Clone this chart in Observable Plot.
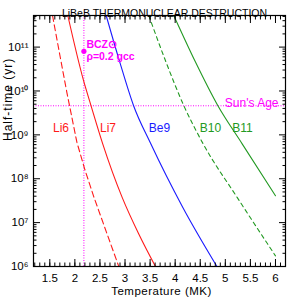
<!DOCTYPE html>
<html><head><meta charset="utf-8">
<script src="https://cdn.jsdelivr.net/npm/d3@7"></script>
<script src="https://cdn.jsdelivr.net/npm/@observablehq/plot@0.6"></script>
<style>
body{margin:0;background:#fff}
</style>
</head><body><div id="chart"></div>
<script>
// Temperature (MK) and half-time (yr)
const li6T = [1.554, 1.70, 1.84, 2.04, 2.20, 2.38, 2.64, 2.876];
const li6Y = [5.25e11, 6.6e10, 9.3e9, 6.8e8, 1.6e8, 3.8e7, 5.6e6, 1.0e6];
const li7T = [1.859, 2.172, 2.317, 2.557, 2.943, 3.274, 3.607];
const li7Y = [5.25e11, 1.74e10, 4.84e9, 6.17e8, 3.76e7, 5.5e6, 1.0e6];
const be9T = [2.624, 2.90, 3.169, 3.514, 4.15, 4.837];
const be9Y = [5.25e11, 4.37e10, 4.68e9, 6.24e8, 2.24e7, 9.8e5];
const b10T = [3.474, 3.80, 4.171, 4.558, 5.236, 6.0];
const b10Y = [5.25e11, 5.13e10, 4.67e9, 6.24e8, 3.76e7, 1.75e6];
const b11T = [3.972, 4.40, 4.849, 5.336, 6.0];
const b11Y = [5.25e11, 4.68e10, 4.67e9, 6.24e8, 4.11e7];

const sunAge = 4.6e9;
const bczT = 2.18;
const bczPoint = [{T: 2.18, t: 8e10}];
const bczLines = ["BCZ\u2299", "\u03c1=0.2 gcc"];

const labelNames = ["Li6", "Li7", "Be9", "B10", "B11"];
const labelT = [1.723, 2.66, 3.687, 4.704, 5.342];
const labelY = [1.42e9, 1.42e9, 1.42e9, 1.42e9, 1.42e9];

const xMajor = [1.5, 2, 2.5, 3, 3.5, 4, 4.5, 5, 5.5, 6];
const yMajor = [1e6, 1e7, 1e8, 1e9, 1e10, 1e11];
const yLabels = ["10\u2076", "10\u2077", "10\u2078", "10\u2079", "10\u00b9\u2070", "10\u00b9\u00b9"];

const xMinor = d3.range(12, 63).map(d => d / 10);
const yMinor = [];
for (let e = 6; e <= 11; e++) for (let m = 2; m <= 9; m++) { const v = m * 10 ** e; if (v <= 5.25e11) yMinor.push(v); }

const RED = "#ff1a1a", BLUE = "#1a1aff", GREEN = "#229922", MAG = "#ff00ff";
const ser = (T, Y) => T.map((x, i) => ({T: x, t: Y[i]}));
const labels = labelNames.map((n, i) => ({name: n, T: labelT[i], t: labelY[i]}));
const labelColors = [RED, RED, BLUE, GREEN, GREEN];

const chart = Plot.plot({
  width: 301, height: 301,
  marginLeft: 33, marginRight: 16, marginTop: 15, marginBottom: 35,
  style: {fontFamily: "'Liberation Sans', Arial, sans-serif", fontSize: "11px", background: "white", color: "black"},
  x: {domain: [1.175, 6.2], label: null},
  y: {type: "log", domain: [1e6, 5.25e11], label: null},
  marks: [
    Plot.ruleY([sunAge], {stroke: MAG, strokeDasharray: "1,1.5", strokeWidth: 1}),
    Plot.ruleX([bczT], {stroke: MAG, strokeDasharray: "1,1.5", strokeWidth: 1}),
    Plot.line(ser(li6T, li6Y), {x: "T", y: "t", stroke: RED, strokeWidth: 1.1, strokeDasharray: "6,3.5", clip: true}),
    Plot.line(ser(li7T, li7Y), {x: "T", y: "t", stroke: RED, strokeWidth: 1.1, curve: "monotone-x", clip: true}),
    Plot.line(ser(be9T, be9Y), {x: "T", y: "t", stroke: BLUE, strokeWidth: 1.1, curve: "monotone-x", clip: true}),
    Plot.line(ser(b10T, b10Y), {x: "T", y: "t", stroke: GREEN, strokeWidth: 1.1, strokeDasharray: "4,3.5", curve: "monotone-x", clip: true}),
    Plot.line(ser(b11T, b11Y), {x: "T", y: "t", stroke: GREEN, strokeWidth: 1.1, curve: "monotone-x", clip: true}),
    Plot.dot(bczPoint, {x: "T", y: "t", r: 2.6, fill: MAG, stroke: null}),
    Plot.text(bczPoint, {x: "T", y: "t", text: () => bczLines[0], dx: 2.5, dy: -7, textAnchor: "start", fill: MAG, fontWeight: "bold", fontSize: 10.5}),
    Plot.text(bczPoint, {x: "T", y: "t", text: () => bczLines[1], dx: 2.5, dy: 5, textAnchor: "start", fill: MAG, fontWeight: "bold", fontSize: 10.5}),
    Plot.text(labels, {x: "T", y: "t", text: "name", fill: (d, i) => labelColors[i], fontSize: 12}),
    Plot.text([sunAge], {y: d => d, text: () => "Sun's Age", frameAnchor: "right", textAnchor: "end", dx: -7, dy: -2.6, fill: MAG, fontSize: 12}),
    Plot.frame({stroke: "black", strokeWidth: 1.2}),
    // inward ticks on all sides
    Plot.axisX(xMajor, {anchor: "bottom", tickSize: -7, fill: "none", label: null}),
    Plot.axisX(xMinor, {anchor: "bottom", tickSize: -3.5, fill: "none", label: null}),
    Plot.axisX(xMajor, {anchor: "top", tickSize: -7, fill: "none", label: null}),
    Plot.axisX(xMinor, {anchor: "top", tickSize: -3.5, fill: "none", label: null}),
    Plot.axisY(yMajor, {anchor: "left", tickSize: -7, fill: "none", label: null}),
    Plot.axisY(yMinor, {anchor: "left", tickSize: -3.5, fill: "none", label: null}),
    Plot.axisY(yMajor, {anchor: "right", tickSize: -7, fill: "none", label: null}),
    Plot.axisY(yMinor, {anchor: "right", tickSize: -3.5, fill: "none", label: null}),
    // tick labels
    Plot.axisX(xMajor, {anchor: "bottom", tickSize: 0, tickPadding: 7, tickFormat: d => String(d), fontSize: 11.5, label: null}),
    Plot.axisY(yMajor, {anchor: "left", tickSize: 0, tickPadding: 5, tickFormat: (d, i) => yLabels[yMajor.indexOf(d)], fontSize: 11.5, label: null}),
    // titles
    Plot.text(["LiBeB THERMONUCLEAR DESTRUCTION"], {text: d => d, frameAnchor: "top", dx: 5, dy: -5.5, fontSize: 10.5}),
    Plot.text(["Temperature (MK)"], {text: d => d, frameAnchor: "bottom", dx: 2, dy: 28.5, fontSize: 11.5}),
    Plot.text(["Half-time (yr)"], {text: d => d, frameAnchor: "left", dx: -25, rotate: -90, fontSize: 12})
  ]
});
document.getElementById("chart").appendChild(chart);
d3.select(chart).selectAll("text").filter(function(){ return this.textContent === "Half-time (yr)"; }).style("letter-spacing", "1px");
d3.select(chart).selectAll("text").filter(function(){ return this.textContent === "Temperature (MK)"; }).style("letter-spacing", "0.5px");
</script>
</body></html>
